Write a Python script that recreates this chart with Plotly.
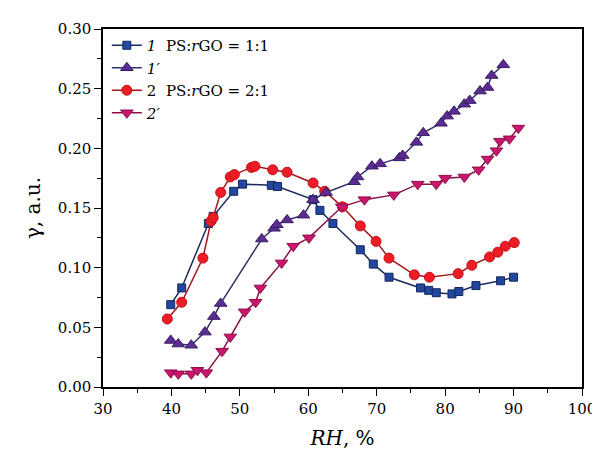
import plotly.graph_objects as go

# Series 1: PS:rGO = 1:1 (squares)
x1 = [39.9, 41.5, 45.4, 46.1, 49.1, 50.4, 54.6, 55.5, 60.7, 61.7, 63.6, 67.6, 69.5, 71.8,
      76.4, 77.6, 78.7, 81.0, 82.0, 84.5, 88.1, 90.0]
y1 = [0.069, 0.083, 0.137, 0.143, 0.164, 0.170, 0.169, 0.168, 0.157, 0.148, 0.137, 0.115,
      0.103, 0.092, 0.083, 0.081, 0.079, 0.078, 0.080, 0.085, 0.089, 0.092]

# Series 1' (up triangles)
x1p = [39.9, 41.0, 42.9, 44.9, 46.2, 47.2, 53.2, 55.0, 55.4, 56.9, 59.3, 60.7, 62.6, 66.7,
       67.2, 69.3, 70.5, 73.3, 73.8, 75.8, 76.8, 79.4, 80.3, 81.3, 82.8, 83.6, 85.1, 86.2,
       86.8, 88.5]
y1p = [0.039, 0.036, 0.035, 0.046, 0.059, 0.070, 0.124, 0.133, 0.136, 0.140, 0.144, 0.157,
       0.163, 0.172, 0.176, 0.185, 0.187, 0.192, 0.194, 0.205, 0.213, 0.221, 0.227, 0.231,
       0.237, 0.240, 0.248, 0.251, 0.261, 0.270]

# Series 2: PS:rGO = 2:1 (circles)
x2 = [39.4, 41.5, 44.6, 45.8, 46.1, 47.2, 48.6, 49.2, 51.7, 52.2, 54.8, 56.9, 60.7, 62.4,
      65.0, 67.6, 69.9, 71.8, 75.5, 77.7, 81.9, 83.9, 86.5, 87.7, 88.8, 90.1]
y2 = [0.057, 0.071, 0.108, 0.139, 0.142, 0.163, 0.176, 0.178, 0.184, 0.185, 0.182, 0.180,
      0.171, 0.164, 0.151, 0.135, 0.122, 0.108, 0.094, 0.092, 0.095, 0.102, 0.109, 0.113,
      0.118, 0.121]

# Series 2' (down triangles)
x2p = [39.9, 41.0, 42.9, 43.8, 45.1, 47.4, 48.6, 50.7, 52.3, 53.0, 56.1, 57.8, 60.1, 64.9,
       68.2, 72.5, 76.0, 78.7, 80.0, 82.8, 84.9, 86.2, 87.5, 88.0, 89.4, 90.7]
y2p = [0.012, 0.011, 0.011, 0.014, 0.012, 0.030, 0.042, 0.063, 0.071, 0.083, 0.104, 0.118,
       0.125, 0.151, 0.157, 0.161, 0.170, 0.170, 0.175, 0.176, 0.182, 0.191, 0.198, 0.206,
       0.208, 0.217]

names = ["<i>1</i>  PS:<i>r</i>GO = 1:1", "<i>1′</i>", "2  PS:<i>r</i>GO = 2:1", "<i>2′</i>"]

FONT = "DejaVu Serif"

fig = go.Figure()

def add(x, y, name, group, symbol, size, fill, edge, line):
    fig.add_trace(go.Scatter(
        x=x, y=y, name=name, mode="lines+markers", legendgroup=group,
        line=dict(color=line, width=1.5),
        marker=dict(symbol=symbol, size=size, color=fill, line=dict(color=edge, width=1)),
    ))

add(x1, y1, names[0], "a", "square", 8, "#22479e", "#15275f", "#1c2a5e")
add(x2, y2, names[2], "b", "circle", 10, "#ee1c25", "#c1121b", "#a3161c")
add(x1p, y1p, names[1], "a", "triangle-up", 11, "#5b2c91", "#3a1d66", "#33306a")
add(x2p, y2p, names[3], "b", "triangle-down", 11, "#c8176d", "#8e0f4a", "#8c1046")

axis_common = dict(
    showline=True, linecolor="black", linewidth=1.5, mirror=True,
    ticks="outside", ticklen=7, tickwidth=1.3, tickcolor="black",
    showgrid=False, zeroline=False,
    tickfont=dict(family=FONT, size=15, color="black"),
)

fig.update_layout(
    width=600, height=450,
    margin=dict(l=95, r=16, t=15, b=67),
    paper_bgcolor="white", plot_bgcolor="white",
    xaxis=dict(range=[30, 100], dtick=10, tick0=30,
               minor=dict(ticks="outside", ticklen=4, dtick=5, tickcolor="black", tickwidth=1.2),
               title=dict(text="<i>RH</i>, %", font=dict(family=FONT, size=20, color="black"), standoff=14),
               **axis_common),
    yaxis=dict(range=[0, 0.30], dtick=0.05, tickformat=".2f",
               minor=dict(ticks="outside", ticklen=4, dtick=0.025, tickcolor="black", tickwidth=1.2),
               title=dict(text="γ, a.u.", font=dict(family=FONT, size=20, color="black"), standoff=12),
               **axis_common),
    legend=dict(x=0.008, y=1.0, xanchor="left", yanchor="top",
                bgcolor="rgba(0,0,0,0)", borderwidth=0,
                traceorder="grouped", tracegroupgap=0,
                font=dict(family=FONT, size=15, color="black")),
)

fig.write_html("out.html")
